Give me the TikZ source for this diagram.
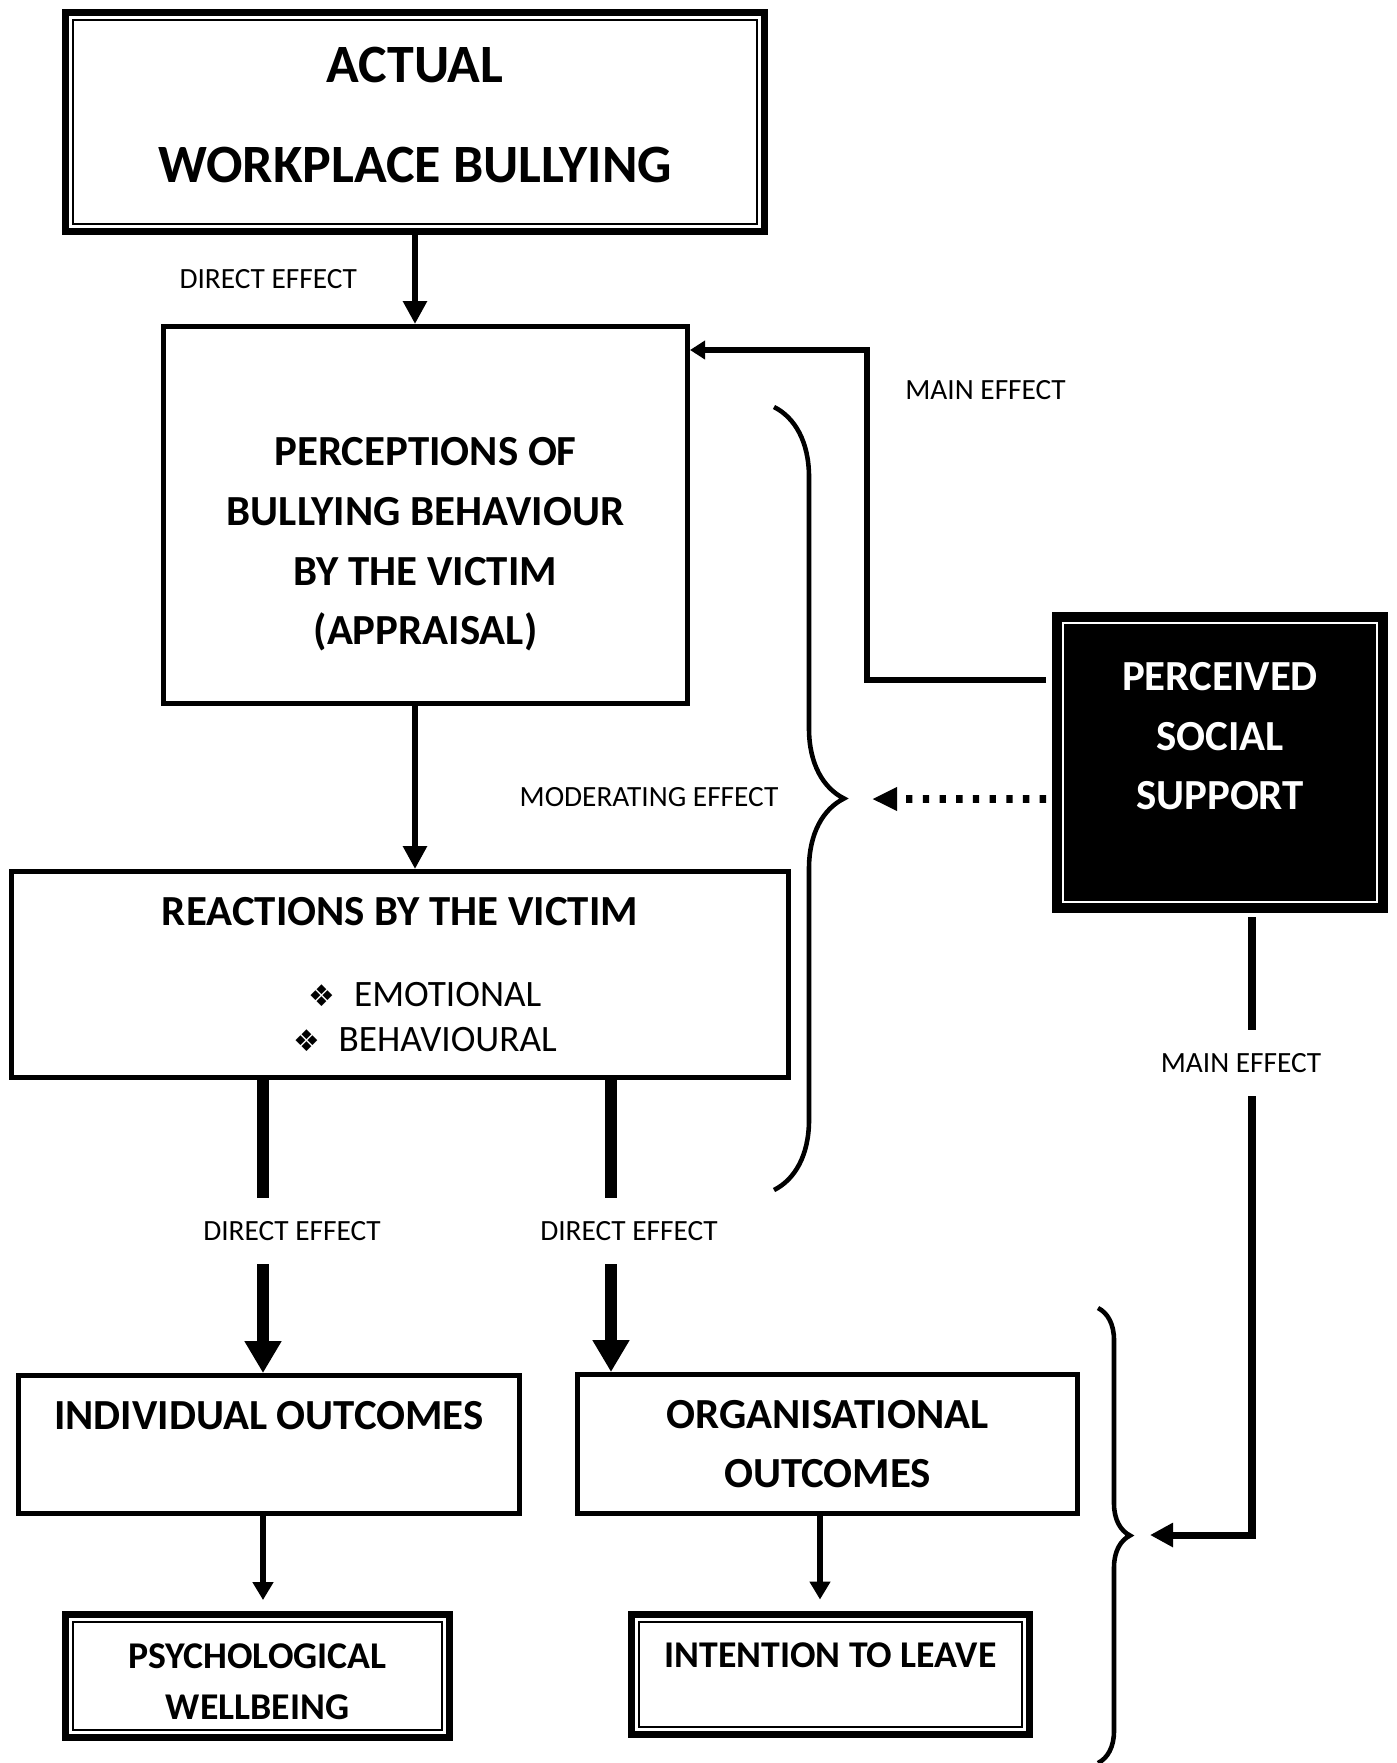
\documentclass[tikz,border=0pt]{standalone}
\usepackage{fontspec}
\setmainfont{Carlito}
\newfontfamily\bulletfont{DejaVu Sans}
\usetikzlibrary{arrows.meta, positioning, calc, decorations.pathreplacing}

\begin{document}
\begin{tikzpicture}[
    node distance=1cm,
    box/.style={rectangle, draw=black, line width=2.85pt, align=center, font=\fontsize{24.4}{34}\selectfont\bfseries},
    dbox/.style={rectangle, draw=black, line width=4pt, align=center, font=\fontsize{21.5}{29}\selectfont\bfseries},
    lbl/.style={inner sep=0pt, minimum height=1.32cm, font=\fontsize{16.7}{20}\selectfont},
    arr/.style={line width=3.4pt, -{Triangle[length=0.46cm, width=0.46cm]}},
    arrsmall/.style={line width=3.4pt, shorten >=0.22cm, -{Triangle[length=0.36cm, width=0.4cm]}},
    fat/.style={line width=6.8pt},
    fatarr/.style={fat, -{Triangle[length=0.64cm, width=0.7cm]}},
    effarr/.style={line width=3pt, -{Triangle[length=0.3cm, width=0.36cm]}},
    effline/.style={line width=4pt},
    effarrb/.style={effline, -{Triangle[length=0.46cm, width=0.46cm]}},
    dots/.style={line width=4.5pt, dash pattern=on 3.6pt off 5.9pt, -{Triangle[length=0.5cm, width=0.44cm]}},
    brc/.style={decorate, line width=2.6pt},
]
\useasboundingbox (0,0) rectangle (27.94,-35.26);

% Boxes
\node[dbox, minimum width=13.98cm, minimum height=4.38cm, font=\fontsize{30.7}{57}\selectfont\bfseries] (top) at (8.3,-2.44) {ACTUAL\\WORKPLACE BULLYING\\[-49pt]~};
\node[box, minimum width=10.48cm, minimum height=7.54cm, below=1.78cm of top, xshift=0.21cm] (percep) {~\\[15.4pt]PERCEPTIONS OF\\BULLYING BEHAVIOUR\\BY THE VICTIM\\(APPRAISAL)};
\node[box, minimum width=15.54cm, minimum height=4.12cm, below=3.26cm of percep, xshift=-0.51cm, font=\fontsize{21.2}{25.6}\selectfont] (react) {{\fontsize{24.4}{34}\selectfont\bfseries REACTIONS BY THE VICTIM}\\[21pt]
    \hspace*{1.0cm}{\bulletfont\fontsize{17}{20}\selectfont ❖}\enspace EMOTIONAL\\
    \hspace*{1.0cm}{\bulletfont\fontsize{17}{20}\selectfont ❖}\enspace BEHAVIOURAL};
\node[box, minimum width=10.02cm, minimum height=2.76cm, below=5.86cm of react, xshift=-2.62cm, font=\fontsize{24.4}{33.6}\selectfont\bfseries] (indiv) {INDIVIDUAL OUTCOMES\\~};
\node[box, minimum width=10.0cm, minimum height=2.77cm, below=5.84cm of react, xshift=8.55cm, font=\fontsize{24.4}{33.6}\selectfont\bfseries] (org) {ORGANISATIONAL\\OUTCOMES};
\node[dbox, minimum width=7.68cm, minimum height=2.46cm, below=1.9cm of indiv, xshift=-0.23cm] (psych) {\rule{0pt}{20.5pt}PSYCHOLOGICAL\\WELLBEING};
\node[dbox, minimum width=7.96cm, minimum height=2.40cm, below=1.9cm of org, xshift=0.06cm] (leave) {\rule{0pt}{21pt}INTENTION TO LEAVE\\~};
\node[box, fill=black, text=white, line width=4pt, minimum width=6.58cm, minimum height=5.88cm, right=7.24cm of percep, yshift=-4.95cm] (support) {PERCEIVED\\SOCIAL\\SUPPORT\\[-3.8pt]~};

% Inner frames
\foreach \n in {top, psych, leave}
    \draw[line width=1.1pt] ([shift={(0.22,-0.22)}]\n.north west) rectangle ([shift={(-0.22,0.22)}]\n.south east);
\draw[white, line width=1.1pt] ([shift={(0.22,-0.22)}]support.north west) rectangle ([shift={(-0.22,0.22)}]support.south east);

% Labels
\node[lbl] (de2) at (5.84,-24.62) {DIRECT EFFECT};
\node[lbl] (de3) at (12.58,-24.62) {DIRECT EFFECT};
\node[lbl] (mod) at (12.98,-15.94) {MODERATING EFFECT};
\node[lbl, anchor=west] (me1) at (18.1,-7.8) {MAIN EFFECT};
\node[lbl] (me2) at (24.82,-21.26) {MAIN EFFECT};

% Helper points
\coordinate (lx) at ([xshift=5.08cm]react.south west);
\coordinate (rx) at ([xshift=12.04cm]react.south west);
\coordinate (ox) at ([xshift=-0.15cm]org.south);
\coordinate (turn) at (17.34,-7.0);
\coordinate (modtip) at (17.44,-15.98);
\coordinate (sx) at (25.04,-18.34);
\coordinate (outtip) at (23.0,-30.7);

% Direct effects
\draw[arr] (top.south) -- (top.south |- percep.north) node[lbl, midway, left=1.1cm] (de1) {DIRECT EFFECT};
\draw[arr] (top.south |- percep.south) -- (top.south |- react.north);
\draw[fat] (lx) -- (lx |- de2.north);
\draw[fatarr] (lx |- de2.south) -- (lx |- indiv.north);
\draw[fat] (rx) -- (rx |- de3.north);
\draw[fatarr] (rx |- de3.south) -- (rx |- org.north);
\draw[arrsmall] (lx |- indiv.south) -- (lx |- psych.north);
\draw[arrsmall] (ox) -- (ox |- leave.north);

% Social support effects
\draw[effarr] ([xshift=-0.12cm, yshift=1.65cm]support.west) -| (turn) -- (turn -| percep.east);
\draw[dots] ([xshift=-0.12cm, yshift=-0.73cm]support.west) -- (modtip);
\draw[effline] (sx) -- (sx |- me2.north);
\draw[effarrb] (sx |- me2.south) |- (outtip);

% Braces
\draw[brc, decoration={brace, amplitude=1.4cm}] (15.48,-8.14) -- (15.48,-23.8);
\draw[brc, decoration={brace, amplitude=0.64cm}] (21.96,-26.16) -- (21.96,-35.26);

\end{tikzpicture}
\end{document}
